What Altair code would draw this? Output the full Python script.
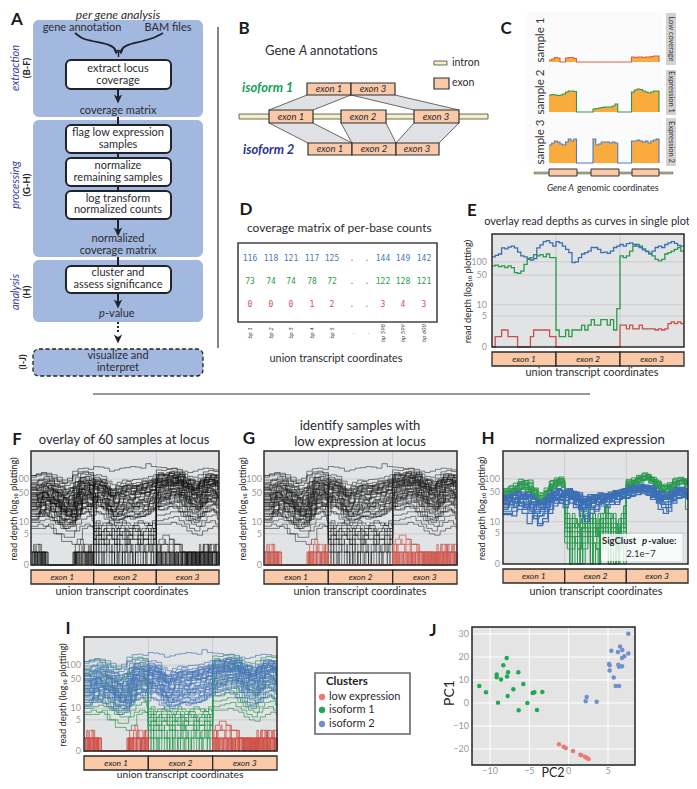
import altair as alt
import pandas as pd
import numpy as np

FONT = "Lato"
INK = "#2b2b33"
XC = alt.Scale(domain=[8, 689], range=[0, 681], nice=False)
YC = alt.Scale(domain=[8, 781], range=[0, 773], nice=False)
layers = []


def cx(f):
    return alt.X(f, type="quantitative", scale=XC, axis=None)


def cy(f):
    return alt.Y(f, type="quantitative", scale=YC, axis=None)


def text(strings, xs, ys, size=10, color=INK, angle=0, align="center", style="normal", weight="normal", font=FONT):
    df = pd.DataFrame({"t": strings, "x": xs, "y": ys})
    props = dict(fontSize=size, color=color, align=align, baseline="middle", fontStyle=style, fontWeight=weight, font=font)
    if angle:
        props["angle"] = angle
    layers.append(alt.Chart(df).mark_text(**props).encode(x=cx("x"), y=cy("y"), text="t:N"))


def box(x, x2, y, y2, **props):
    df = pd.DataFrame({"a": x, "b": x2, "c": y, "d": y2})
    layers.append(alt.Chart(df).mark_rect(**props).encode(x=cx("a"), x2=alt.X2("b"), y=cy("c"), y2=alt.Y2("d")))


def segs(x, x2, y, y2, color=INK, width=1.0, dash=None):
    df = pd.DataFrame({"a": x, "b": x2, "c": y, "d": y2})
    props = dict(color=color, strokeWidth=width)
    if dash:
        props["strokeDash"] = dash
    layers.append(alt.Chart(df).mark_rule(**props).encode(x=cx("a"), x2=alt.X2("b"), y=cy("c"), y2=alt.Y2("d")))


def heads(x, y, size=70):
    df = pd.DataFrame({"x": x, "y": y})
    layers.append(alt.Chart(df).mark_point(shape="M-1,-1.1L0,1.1L1,-1.1L0,-0.5Z", filled=True, size=size, color="#20232e", opacity=1).encode(x=cx("x"), y=cy("y")))


# ---------- Panel letters ----------
LETTERS = ["A", "B", "C", "D", "E", "F", "G", "H", "I", "J"]
LETTER_X = [17, 244, 506, 246, 472, 17, 249, 488, 68, 433]
LETTER_Y = [20, 29, 29, 210, 211, 440, 439, 439, 629, 631]
text(LETTERS, LETTER_X, LETTER_Y, size=17, color="#1a1a1a", weight="bold")

# ---------- Panel A ----------
A_PANEL_Y = [20, 120, 260]
A_PANEL_Y2 = [117, 257, 322]
box([33] * 3, [203] * 3, A_PANEL_Y, A_PANEL_Y2, color="#a3b8df", cornerRadius=6)
box([33], [203], [349], [376], color="#a3b8df", cornerRadius=6, stroke="#222", strokeWidth=1.3, strokeDash=[4, 2.5])
segs([118] * 6, [118] * 6, [89, 117, 153, 186, 219, 293], [102, 125, 158, 191, 232, 304], color="#20232e", width=2)
segs([118], [118], [257], [266], color="#20232e", width=2)
segs([118], [118], [322], [333], color="#20232e", width=2, dash=[2, 2])
curve_l = pd.DataFrame({"x": [75, 82, 92, 106, 114, 117], "y": [33, 38, 41, 44, 48, 53]})
curve_r = pd.DataFrame({"x": [163, 153, 143, 131, 123, 120], "y": [33, 38, 41, 44, 48, 53]})
for c in (curve_l, curve_r):
    layers.append(alt.Chart(c).mark_line(interpolate="monotone", color="#20232e", strokeWidth=1.8).encode(x=alt.X("x:Q", scale=XC, axis=None), y=alt.Y("y:Q", scale=YC, axis=None), order="y:Q"))
segs([118.5], [118.5], [50], [57], color="#20232e", width=1.5)
heads([118, 118, 118, 118], [99, 232, 304, 339])
heads([116, 121], [52, 52], size=22)
A_BOX_Y = [60, 125, 158, 191, 266]
A_BOX_Y2 = [89, 153, 186, 219, 293]
box([66] * 5, [171] * 5, A_BOX_Y, A_BOX_Y2, color="white", stroke="#20232e", strokeWidth=2, cornerRadius=5)
A_TEXT = ["gene annotation", "BAM files", "extract locus", "coverage", "coverage matrix", "flag low expression",
          "samples", "normalize", "remaining samples", "log transform", "normalized counts", "normalized",
          "coverage matrix", "cluster and", "assess significance", "visualize and", "interpret"]
A_TEXT_X = [82, 168] + [118] * 15
A_TEXT_Y = [28, 28, 69, 81, 111, 133, 145, 166, 178, 199, 210, 239, 251, 273, 285, 356, 368]
text(A_TEXT, A_TEXT_X, A_TEXT_Y, size=11)
text(["p"], [102], [314], size=11, style="italic")
text(["-value"], [105], [314], size=11, align="left")
text(["per gene analysis"], [118], [15], size=12, style="italic")
STAGE = ["extraction", "processing", "analysis"]
text(STAGE, [16, 16, 16], [68, 185, 292], size=11, color="#3b3b9c", style="italic", angle=270)
text(["(B-F)", "(G-H)", "(H)", "(I-J)"], [27, 27, 27, 23], [68, 185, 292, 362], size=9.5, weight="bold", angle=270, color="#222")
segs([218], [218], [27], [348], color="#333", width=1.2)
segs([93], [590], [394], [394], color="#333", width=1.2)

# ---------- Panel B ----------
text(["Gene"], [265], [51], size=13, align="left")
text(["A"], [299], [51], size=13, align="left", style="italic")
text(["annotations"], [310], [51], size=13, align="left")
box([239], [488], [114], [119], color="#f7efc4", stroke="#444", strokeWidth=0.8)
box([434], [447], [61], [65], color="#f7efc4", stroke="#444", strokeWidth=0.8)
text(["intron", "exon"], [452, 452], [63, 83], size=10.5, align="left")
TRAP_Y = [[95, 110], [95, 110], [123, 143], [123, 143], [123, 143]]
TRAP_XA = [[307, 269], [351, 414], [269, 308], [341, 352], [414, 396]]
TRAP_XB = [[351, 313], [395, 459], [313, 352], [386, 396], [459, 439]]
for ty, ta, tb in zip(TRAP_Y, TRAP_XA, TRAP_XB):
    d = pd.DataFrame({"y": ty, "a": ta, "b": tb})
    layers.append(alt.Chart(d).mark_area(orient="horizontal", color="#dfe1e4").encode(y=cy("y"), x=cx("a"), x2=alt.X2("b")))
    segs(ta[:1], ta[1:], ty[:1], ty[1:], color="#444", width=0.8)
    segs(tb[:1], tb[1:], ty[:1], ty[1:], color="#444", width=0.8)
EXON_B_X = [307, 351, 269, 341, 414, 308, 352, 396, 434]
EXON_B_X2 = [351, 395, 313, 386, 459, 352, 396, 439, 449]
EXON_B_Y = [83, 83, 110, 110, 110, 143, 143, 143, 78]
EXON_B_Y2 = [95, 95, 123, 123, 123, 155, 155, 155, 89]
box(EXON_B_X, EXON_B_X2, EXON_B_Y, EXON_B_Y2, color="#f9c9a8", stroke="#333", strokeWidth=1.2)
EXON_B_T = ["exon 1", "exon 3", "exon 1", "exon 2", "exon 3", "exon 1", "exon 2", "exon 3"]
text(EXON_B_T, [329, 373, 291, 363, 436, 330, 374, 417], [89, 89, 117, 117, 117, 149, 149, 149], size=9.5, style="italic")
text(["isoform 1"], [242], [88], size=13, color="#16a05a", style="italic", weight="bold", align="left")
text(["isoform 2"], [243], [150], size=13, color="#2b3590", style="italic", weight="bold", align="left")

# ---------- Panel C ----------
C_POS = list(range(0, 1001, 25))
C_S1 = [2, 3, 4.5, 4, 0, 0, 4, 4.5, 4.5, 3.5, 0] + [0] * 19 + [5, 4.5, 5, 5, 4.5, 5, 5, 5.5, 6, 6, 0]
C_S2 = [17, 17.5, 17, 16.5, 17, 18, 20, 21, 21, 20.5, 0, 0, 0, 0, 0, 0, 3, 3.5, 4, 4.5, 5, 5, 5, 6, 8, 0, 0, 0, 0, 0,
        20, 22, 23, 22.5, 21, 20, 19, 20, 21, 21, 0]
C_S3 = [18, 20, 22, 21, 19, 18, 21, 24, 22, 24, 0, 0, 0, 0, 0, 0, 24, 18, 19, 21, 21, 21, 20, 21, 20, 0, 0, 0, 0, 0,
        22, 22, 23, 22, 21, 22, 20, 22, 23, 24, 0]
C_GRID = np.arange(528, 663, 2.0).tolist()
segs(C_GRID, C_GRID, [12] * len(C_GRID), [165] * len(C_GRID), color="#f1f1f1", width=0.6)
C_X = alt.Scale(domain=[0, 1000], range=[541, 651], nice=False)
for vals, base, col in ((C_S1, 62, "#d6604d"), (C_S2, 112, "#2a9a4a"), (C_S3, 163, "#4a7fc0")):
    d = pd.DataFrame({"p": C_POS, "v": vals})
    ys = alt.Scale(domain=[0, 50], range=[base - 8, base - 58], nice=False)
    enc = dict(x=alt.X("p:Q", scale=C_X, axis=None), y=alt.Y("v:Q", scale=ys, axis=None))
    layers.append(alt.Chart(d).mark_area(interpolate="step-after", color="#f9ac3d").encode(**enc))
    layers.append(alt.Chart(d).mark_line(interpolate="step-after", color=col, strokeWidth=1.1).encode(**enc))
box([666] * 3, [676] * 3, [13, 70, 118], [65, 115, 166], color="#d2d2d2")
text(["Low coverage", "Expression 1", "Expression 2"], [671] * 3, [39, 92, 142], size=7.5, angle=90, color="#333")
text(["sample 1", "sample 2", "sample 3"], [541] * 3, [40, 92, 142], size=11.5, angle=270, color="#333")
box([534], [673], [172], [174], color="#b5ae90", stroke="#555", strokeWidth=0.5)
box([549, 591, 632], [577, 619, 659], [169] * 3, [176] * 3, color="#f9c9a8", stroke="#333", strokeWidth=1)
text(["Gene A"], [547], [188], size=9, style="italic", align="left")
text(["genomic coordinates"], [577], [188], size=9, align="left")

# ---------- Panel D ----------
text(["coverage matrix of  per-base counts"], [247], [228], size=12, align="left")
box([238], [437], [243], [322], filled=False, stroke="#444", strokeWidth=1.6)
D_COL = [250, 271, 291, 312, 332, 352, 367, 383, 403, 424]
D_BLUE = ["116", "118", "121", "117", "125", ".", ".", "144", "149", "142"]
D_GREEN = ["73", "74", "74", "78", "72", ".", ".", "122", "128", "121"]
D_RED = ["0", "0", "0", "1", "2", ".", ".", "3", "4", "3"]
D_BP = ["bp 1", "bp 2", "bp 3", "bp 4", "bp 5", ".", ".", "bp 598", "bp 599", "bp 600"]
MONO = "DejaVu Sans Mono"
text(D_BLUE, D_COL, [259] * 10, size=8, color="#4a7ab5", font=MONO)
text(D_GREEN, D_COL, [282] * 10, size=8, color="#2e9a50", font=MONO)
text(D_RED, D_COL, [305] * 10, size=8, color="#d0505a", font=MONO)
text(D_BP, D_COL, [333] * 10, size=6, style="italic", angle=270, color="#444")
text(["union transcript coordinates"], [336], [359], size=10.8)

# ---------- Read-depth data ----------
LEVEL = [0, 1.2, 2.4, 3.5, 4.6, 5.8, 7, 8.3, 9.6, 11]
PHASE = [0, 0.5, 0.2, 0.7, 0.35, 0.85]
BLUE = [
    [120, 130, 140, 135, 125, 110, 95, 105, 150, 170, 175, 165, 190, 185, 175, 150, 160, 175, 180, 190, 185, 175, 220, 190, 185, 180, 170, 175, 165, 150, 140, 150, 165, 175, 170, 160],
    [95, 100, 112, 100, 90, 80, 72, 80, 110, 130, 125, 120, 125, 115, 90, 75, 85, 95, 92, 98, 100, 105, 115, 125, 130, 128, 135, 140, 125, 105, 95, 88, 100, 120, 125, 118],
    [80, 92, 95, 90, 78, 66, 60, 64, 85, 105, 112, 100, 110, 100, 82, 60, 72, 80, 88, 80, 84, 92, 95, 105, 112, 120, 118, 125, 110, 88, 76, 72, 85, 100, 108, 96],
    [62, 75, 80, 72, 66, 58, 46, 50, 70, 88, 92, 85, 92, 80, 60, 48, 60, 72, 74, 68, 76, 80, 84, 92, 95, 100, 108, 112, 92, 80, 62, 60, 72, 88, 94, 85],
    [55, 60, 68, 60, 52, 44, 38, 44, 60, 78, 80, 72, 80, 72, 50, 38, 46, 52, 60, 62, 56, 64, 72, 80, 85, 84, 90, 95, 82, 66, 56, 50, 62, 76, 80, 70],
    [46, 52, 58, 56, 48, 38, 32, 36, 50, 66, 72, 62, 70, 60, 42, 30, 40, 44, 46, 50, 48, 52, 58, 66, 72, 76, 80, 84, 70, 60, 46, 42, 52, 66, 70, 60],
    [40, 46, 50, 46, 38, 32, 26, 30, 44, 58, 60, 52, 60, 50, 36, 24, 30, 36, 38, 36, 40, 46, 50, 56, 64, 66, 72, 75, 62, 50, 40, 36, 46, 58, 62, 52],
    [34, 40, 44, 40, 34, 28, 22, 24, 36, 48, 52, 46, 48, 42, 28, 20, 26, 30, 34, 30, 34, 36, 40, 48, 54, 58, 62, 60, 50, 42, 34, 30, 38, 50, 52, 44],
    [28, 34, 38, 34, 28, 22, 18, 20, 30, 42, 44, 38, 42, 34, 26, 18, 22, 24, 28, 26, 30, 32, 36, 42, 46, 48, 54, 52, 44, 36, 28, 26, 32, 42, 46, 38],
    [24, 28, 32, 28, 24, 18, 14, 16, 26, 34, 36, 32, 34, 28, 20, 14, 18, 20, 22, 24, 22, 26, 28, 34, 40, 42, 44, 46, 38, 30, 24, 20, 28, 36, 38, 32],
    [20, 24, 26, 24, 20, 16, 12, 14, 20, 28, 30, 26, 30, 24, 16, 12, 14, 16, 20, 18, 18, 20, 24, 30, 34, 36, 40, 38, 32, 24, 20, 18, 24, 30, 32, 26],
    [16, 20, 22, 18, 16, 12, 10, 11, 16, 24, 26, 22, 24, 20, 14, 11, 12, 14, 15, 16, 14, 16, 20, 24, 28, 30, 32, 32, 26, 20, 16, 14, 18, 26, 28, 22],
    [14, 16, 18, 16, 13, 10, 8, 9, 14, 20, 22, 18, 18, 16, 12, 9, 10, 12, 14, 12, 13, 14, 16, 20, 24, 26, 28, 26, 22, 18, 14, 12, 16, 22, 22, 18],
    [11, 14, 15, 13, 11, 9, 7, 8, 12, 16, 18, 15, 30, 26, 20, 18, 16, 15, 14, 14, 16, 18, 22, 26, 20, 22, 24, 24, 18, 15, 12, 11, 14, 18, 20, 16],
    [70, 78, 85, 78, 68, 56, 48, 55, 74, 95, 100, 90, 75, 70, 55, 42, 48, 55, 58, 54, 60, 65, 70, 75, 100, 105, 110, 118, 98, 80, 66, 62, 78, 92, 100, 90],
    [50, 56, 62, 58, 50, 42, 34, 38, 54, 72, 76, 68, 55, 48, 34, 26, 30, 36, 34, 38, 40, 44, 48, 56, 78, 84, 88, 92, 76, 62, 48, 46, 58, 72, 78, 68],
    [36, 42, 46, 42, 36, 30, 24, 26, 40, 52, 56, 48, 40, 34, 24, 18, 20, 22, 26, 24, 28, 30, 34, 38, 60, 62, 68, 72, 56, 46, 36, 32, 44, 54, 58, 50],
    [30, 35, 38, 34, 30, 24, 18, 22, 32, 44, 46, 40, 24, 22, 16, 14, 15, 17, 18, 16, 18, 20, 22, 28, 44, 48, 52, 54, 42, 34, 26, 24, 32, 42, 44, 36],
    [110, 118, 125, 115, 102, 88, 80, 86, 118, 135, 142, 130, 95, 88, 70, 55, 62, 68, 74, 70, 72, 80, 86, 95, 125, 130, 140, 150, 130, 110, 96, 90, 105, 128, 132, 120],
    [26, 30, 34, 30, 26, 20, 15, 18, 28, 36, 40, 34, 18, 16, 13, 12, 12, 13, 14, 13, 14, 15, 18, 22, 36, 38, 44, 42, 34, 28, 22, 20, 26, 34, 36, 30],
    [40, 44, 38, 52, 46, 30, 36, 24, 40, 62, 70, 58, 88, 76, 66, 44, 58, 64, 70, 62, 74, 70, 82, 90, 105, 92, 120, 104, 118, 84, 92, 66, 88, 110, 96, 108],
    [22, 30, 26, 36, 32, 18, 22, 16, 28, 38, 48, 40, 72, 66, 48, 36, 44, 52, 46, 56, 58, 50, 66, 72, 88, 96, 84, 108, 90, 76, 58, 70, 74, 98, 82, 90],
    [58, 48, 64, 72, 50, 52, 34, 42, 48, 84, 66, 76, 100, 84, 62, 50, 68, 60, 78, 66, 62, 88, 76, 98, 140, 118, 132, 110, 128, 92, 100, 74, 96, 108, 124, 104],
    [18, 26, 20, 30, 24, 16, 20, 13, 22, 34, 28, 36, 64, 52, 44, 28, 36, 42, 38, 46, 50, 42, 56, 66, 72, 82, 70, 92, 66, 70, 46, 54, 66, 76, 84, 68],
    [30, 24, 40, 34, 28, 34, 20, 26, 24, 52, 44, 46, 66, 60, 36, 32, 28, 46, 42, 34, 52, 48, 60, 58, 92, 76, 102, 84, 94, 64, 76, 56, 72, 90, 74, 86],
    [76, 66, 88, 94, 72, 70, 52, 64, 66, 108, 92, 96, 82, 96, 58, 56, 52, 70, 64, 72, 66, 78, 92, 84, 128, 110, 146, 122, 140, 96, 84, 82, 92, 130, 110, 126],
    [48, 38, 54, 44, 52, 34, 38, 26, 44, 58, 74, 54, 58, 54, 46, 34, 42, 40, 54, 44, 46, 60, 52, 70, 74, 90, 80, 104, 72, 82, 52, 60, 68, 86, 98, 76],
    [14, 20, 17, 24, 18, 12, 15, 11, 18, 28, 24, 30, 50, 42, 30, 24, 26, 34, 30, 38, 34, 40, 46, 50, 60, 56, 72, 64, 58, 50, 38, 44, 50, 62, 56, 64],
    [34, 30, 48, 38, 42, 26, 30, 28, 32, 46, 60, 50, 34, 30, 26, 20, 24, 26, 22, 28, 30, 26, 32, 36, 66, 78, 60, 82, 62, 54, 44, 38, 54, 66, 78, 58],
    [24, 20, 32, 26, 22, 24, 16, 20, 20, 42, 34, 38, 44, 36, 24, 22, 20, 30, 28, 24, 34, 30, 38, 42, 54, 46, 60, 48, 56, 40, 46, 34, 44, 56, 48, 54],
    [66, 56, 72, 82, 60, 58, 44, 52, 56, 90, 80, 82, 68, 62, 46, 40, 44, 48, 52, 46, 54, 56, 64, 68, 84, 96, 90, 108, 78, 70, 74, 56, 80, 84, 100, 88],
    [12, 17, 14, 20, 15, 10, 12, 9, 14, 22, 20, 24, 26, 22, 18, 15, 16, 20, 18, 22, 24, 20, 28, 30, 32, 38, 30, 44, 34, 26, 24, 22, 30, 36, 30, 38],
    [44, 36, 50, 56, 40, 40, 30, 34, 38, 60, 56, 62, 76, 70, 52, 42, 50, 56, 62, 52, 68, 62, 70, 80, 78, 68, 94, 80, 86, 60, 68, 50, 64, 78, 70, 82],
    [20, 16, 28, 22, 18, 20, 14, 16, 16, 32, 26, 30, 38, 30, 20, 16, 18, 22, 24, 20, 26, 24, 32, 36, 40, 34, 50, 40, 46, 32, 36, 28, 36, 44, 38, 46],
]
GREEN_E1 = [
    [120, 128, 135, 125, 110, 95, 85, 92, 125, 145, 150, 140], [85, 95, 100, 90, 78, 68, 58, 62, 88, 110, 115, 105],
    [58, 66, 70, 64, 55, 44, 38, 42, 62, 80, 84, 74], [44, 50, 54, 48, 42, 34, 28, 30, 46, 60, 64, 56],
    [34, 38, 42, 38, 32, 26, 20, 22, 34, 46, 50, 42], [26, 30, 32, 28, 24, 18, 15, 16, 26, 36, 38, 32],
    [20, 22, 26, 22, 18, 14, 11, 12, 20, 28, 30, 24], [16, 18, 20, 18, 14, 11, 9, 10, 15, 22, 24, 20],
    [12, 14, 16, 14, 11, 9, 7, 8, 12, 16, 18, 15], [10, 11, 12, 11, 9, 7, 6, 6, 9, 12, 14, 11],
    [8, 9, 8, 9, 5, 5, 4, 4, 6, 8, 9, 8], [7, 7, 8, 7, 5, 3, 3, 2.4, 3.5, 7, 8, 7],
    [65, 72, 78, 70, 60, 50, 44, 48, 68, 88, 92, 82], [30, 34, 38, 34, 28, 22, 18, 20, 30, 40, 44, 38],
]
GREEN_E3 = [
    [160, 155, 165, 170, 150, 130, 115, 110, 125, 145, 155, 148], [120, 125, 135, 130, 115, 95, 80, 78, 92, 110, 118, 108],
    [88, 92, 98, 102, 88, 70, 58, 54, 68, 84, 90, 80], [66, 72, 76, 78, 66, 54, 44, 40, 52, 66, 70, 60],
    [50, 54, 58, 60, 50, 40, 32, 30, 40, 50, 54, 46], [38, 42, 46, 46, 38, 30, 24, 22, 30, 40, 42, 36],
    [30, 32, 36, 36, 30, 24, 18, 17, 24, 30, 32, 26], [24, 26, 28, 30, 24, 18, 14, 13, 18, 24, 26, 22],
    [20, 20, 24, 22, 18, 14, 11, 10, 14, 18, 20, 17], [15, 16, 18, 18, 14, 11, 9, 8, 11, 14, 15, 12],
    [11, 12, 13, 14, 11, 9, 7, 6, 8, 10, 11, 9], [9, 9, 10, 9, 8, 6, 5, 4.6, 6, 7, 8, 7],
    [100, 105, 112, 118, 100, 82, 68, 64, 78, 96, 100, 92], [44, 48, 52, 54, 44, 36, 28, 26, 36, 44, 48, 40],
]
GREEN_E2 = [
    "889997788888999977888899988877788899998888777999",
    "778866777788887776677788877666777788888777877887",
    "667766556677776655666777655666677775566667777666",
    "556655445566665544556666544555666655445555665566",
    "445544334455554433445555433444555544334444554455",
    "334433223344443322334444322333444433223333443344",
    "332233332222333322223333222233333322223333222233",
    "223322112233221122332211223322112233221122332233",
    "221122222211112222112222211112222221111222211222",
    "112211001122110011221100112211001122110011221122",
    "110011110000111100110011110011001111000011110011",
    "001100011100001100100011000111001100001110001100",
    "556644556655446655664455665544665566445566556655",
    "334444333344443333444433334444333344443333444433",
]
RED_E1 = [
    "011010110101100000000000000000001101011110101101",
    "110101101011000000000000000000000010111011011011",
    "111111211110000000000000000000000111122121111211",
    "112122221111100000000000000000000122223322221122",
    "000111101100000000000000000000000011110111110111",
    "100110100110000000000000000000000101100111011101",
]
RED_E3 = [
    "110101110101010110101101010110100101011011011011",
    "101101101111010101101101011011001011010101101101",
    "122122222122212222111110111101111011211212111211",
    "223334444433322222211111111011101211222212221222",
    "111222322233332222221111011111010111101110111011",
    "011011011101110101101010110101011010110101011101",
]
# Panel H (normalised)
H_LEVEL = [0, 1.5, 2.5, 4, 5.5, 7, 9, 12, 16, 24]
H_BLUE = [
    [30, 38, 42, 40, 34, 30, 24, 24, 32, 44, 50, 46, 55, 50, 42, 34, 36, 40, 38, 42, 44, 48, 52, 55, 60, 62, 66, 68, 62, 52, 44, 40, 46, 56, 58, 50],
    [36, 42, 48, 44, 38, 30, 26, 28, 36, 50, 56, 50, 50, 46, 36, 30, 34, 36, 40, 38, 42, 46, 48, 50, 55, 60, 64, 62, 56, 48, 40, 38, 44, 52, 54, 48],
    [24, 30, 34, 30, 26, 22, 18, 20, 28, 38, 42, 38, 46, 40, 30, 22, 26, 30, 34, 32, 36, 40, 44, 46, 50, 54, 58, 56, 50, 42, 34, 30, 38, 46, 50, 44],
    [18, 22, 28, 24, 20, 16, 14, 16, 24, 32, 38, 32, 40, 32, 22, 14, 20, 24, 28, 26, 30, 34, 38, 42, 46, 50, 52, 54, 46, 36, 28, 26, 34, 42, 46, 40],
    [42, 48, 52, 50, 44, 36, 30, 32, 42, 56, 60, 54, 58, 52, 44, 36, 38, 42, 44, 42, 46, 50, 56, 60, 66, 70, 74, 72, 64, 56, 48, 44, 52, 62, 64, 56],
    [15, 18, 24, 20, 16, 12, 9, 10, 20, 28, 32, 26, 36, 26, 14, 10, 16, 20, 24, 22, 26, 30, 36, 38, 42, 44, 48, 50, 38, 28, 22, 18, 28, 36, 40, 34],
    [34, 40, 44, 42, 36, 28, 24, 26, 34, 46, 52, 46, 52, 44, 38, 28, 32, 36, 38, 36, 40, 44, 50, 52, 58, 60, 62, 64, 58, 46, 38, 36, 42, 50, 52, 46],
    [28, 34, 38, 36, 30, 26, 20, 22, 30, 42, 46, 42, 48, 42, 32, 24, 28, 32, 36, 34, 38, 42, 46, 48, 52, 56, 60, 60, 52, 44, 36, 34, 40, 48, 52, 44],
    [22, 26, 30, 28, 24, 20, 16, 18, 26, 34, 38, 34, 44, 36, 26, 18, 24, 28, 30, 30, 34, 36, 40, 44, 48, 52, 54, 54, 48, 38, 20, 16, 30, 44, 48, 42],
    [38, 44, 46, 46, 40, 34, 28, 30, 38, 52, 54, 50, 54, 48, 40, 32, 34, 38, 42, 40, 44, 46, 52, 54, 62, 64, 70, 68, 60, 52, 42, 40, 48, 58, 60, 52],
    [26, 36, 30, 40, 38, 24, 28, 20, 26, 36, 46, 40, 50, 38, 34, 26, 40, 44, 34, 46, 40, 52, 46, 50, 56, 66, 58, 70, 56, 46, 50, 36, 50, 52, 62, 46],
    [32, 28, 40, 34, 42, 34, 22, 30, 30, 46, 40, 52, 46, 50, 30, 34, 28, 42, 46, 36, 46, 42, 58, 52, 64, 54, 70, 60, 66, 50, 40, 42, 40, 60, 50, 56],
    [20, 26, 24, 34, 22, 26, 12, 14, 18, 30, 34, 28, 42, 28, 36, 20, 30, 22, 36, 28, 38, 36, 42, 40, 44, 58, 50, 56, 42, 40, 30, 34, 36, 42, 54, 38],
    [40, 36, 50, 42, 48, 38, 32, 28, 44, 48, 58, 44, 60, 46, 48, 40, 44, 36, 48, 46, 50, 54, 50, 58, 70, 60, 76, 66, 70, 50, 52, 42, 56, 64, 56, 60],
    [28, 24, 36, 24, 28, 18, 16, 20, 22, 40, 36, 44, 38, 44, 24, 28, 22, 34, 26, 32, 30, 38, 34, 46, 54, 48, 62, 52, 44, 48, 32, 38, 34, 50, 44, 50],
    [16, 14, 20, 16, 9, 14, 8, 12, 16, 24, 28, 22, 34, 22, 20, 12, 24, 18, 30, 26, 32, 26, 40, 36, 40, 50, 46, 44, 34, 36, 26, 22, 32, 38, 44, 36],
]
H_GREEN_E1 = [
    [58, 66, 80, 98, 90, 66, 44, 42, 62, 88, 105, 95], [50, 58, 72, 85, 78, 58, 40, 38, 56, 80, 98, 86],
    [46, 52, 62, 72, 64, 50, 36, 34, 50, 72, 88, 78], [42, 48, 56, 64, 58, 44, 32, 30, 46, 66, 78, 70],
    [38, 44, 50, 58, 52, 40, 30, 28, 42, 60, 70, 64], [54, 62, 76, 92, 84, 62, 42, 40, 60, 84, 102, 90],
    [48, 56, 66, 78, 70, 54, 38, 36, 52, 76, 92, 82], [40, 46, 54, 60, 56, 42, 30, 28, 44, 62, 74, 66],
    [52, 70, 68, 88, 72, 62, 36, 46, 54, 92, 96, 84], [44, 60, 60, 80, 60, 54, 34, 32, 58, 70, 84, 92],
    [36, 50, 58, 66, 50, 46, 26, 36, 40, 68, 80, 70], [60, 54, 84, 74, 94, 58, 48, 36, 66, 78, 110, 88],
]
H_GREEN_E3 = [
    [88, 105, 120, 130, 112, 90, 74, 70, 82, 98, 104, 92], [80, 95, 110, 120, 105, 82, 66, 62, 76, 90, 96, 84],
    [76, 88, 100, 112, 96, 74, 60, 56, 70, 84, 90, 78], [70, 82, 92, 102, 88, 68, 54, 50, 64, 78, 84, 72],
    [64, 76, 84, 94, 80, 62, 50, 46, 58, 70, 76, 66], [84, 100, 116, 126, 108, 86, 70, 66, 80, 94, 100, 88],
    [78, 92, 104, 116, 100, 78, 62, 58, 72, 86, 92, 80], [68, 80, 90, 98, 84, 64, 52, 48, 60, 74, 80, 20],
    [96, 92, 112, 136, 100, 96, 66, 76, 74, 104, 108, 84], [72, 100, 96, 124, 92, 90, 56, 68, 66, 92, 98, 76],
    [90, 76, 106, 100, 110, 70, 68, 52, 76, 80, 94, 74], [74, 86, 94, 108, 96, 80, 58, 62, 64, 88, 88, 86],
]
H_GREEN_E2 = [
    "887766777665556677887766655677889988776665567788",
    "776655665544455566776655544566778877665554456677",
    "665544554433344455665544433455667766554443345566",
    "554433443322233344554433322344556655443332234455",
    "998877887766677788998877766788899988877766778899",
    "443322332211122233443322211233445544332221123344",
    "776600665544005566770055544066778800665500456677",
    "332211220011001122332200111022334433220011012233",
    "665533776644886655447766338855669977554466337788",
    "554400332266115544220077334411556633770044226655",
    "887744665533995577446688335577449966228855337799",
    "221100113300220011440022110033221100330011442200",
]

E_BLUE = [130, 140, 150, 205, 195, 215, 226, 205, 165, 136, 130, 120, 110, 118, 205, 240, 285, 300, 267, 226,
          285, 267, 226, 190, 161, 96, 100, 125, 150, 161, 175, 210, 210, 190, 161, 165, 155, 175, 210, 226,
          245, 226, 255, 267, 245, 226, 210, 185, 170, 155, 175, 210, 226, 210, 245, 267, 285, 260, 235, 226]
E_GREEN = [81, 84, 78, 81, 74, 81, 74, 57, 55, 62, 88, 114, 125, 145, 136, 145, 130, 150, 125, 125,
           1.8, 0.9, 0.9, 1.8, 0.9, 1.8, 1.8, 1.8, 2.7, 1.8, 2.7, 4, 2.7, 2.7, 4, 4, 2.7, 4, 1.8, 8,
           136, 125, 136, 175, 226, 245, 226, 195, 175, 150, 136, 114, 105, 114, 150, 161, 175, 190, 210, 175]
E_RED = [0, 0.9, 0.9, 1.8, 1.8, 0.9, 0.9, 0.9, 0, 0, 0, 0, 0.9, 1.8, 1.8, 1.8, 1.8, 1.8, 0.9, 0.9,
         0, 0, 0, 0, 0, 0, 0, 0, 0, 0, 0, 0, 0, 0, 0, 0, 0, 0, 0, 0,
         2.7, 2.7, 2, 2.7, 2, 2, 2.7, 2, 2, 2, 2, 1.8, 2, 1.8, 2, 3, 3.4, 3, 3.4, 3]


def whole(curves):
    rows = []
    for s, c in enumerate(curves):
        n = len(c)
        ph = PHASE[s % len(PHASE)]
        for i, v in enumerate(c):
            rows.append((s, 0 if i == 0 else (i + ph) * 600 / n, v))
        rows.append((s, 600, c[-1]))
    return pd.DataFrame(rows, columns=["s", "bp", "v"])


def spliced(e1, e2, e3, lev=LEVEL):
    rows = []
    for s, (a, m, b) in enumerate(zip(e1, e2, e3)):
        ph = PHASE[s % len(PHASE)]
        for i, v in enumerate(a):
            rows.append((s, 0 if i == 0 else (i + ph) * 200 / len(a), v))
        for i, ch in enumerate(m):
            rows.append((s, 200 + i * 200 / len(m), lev[int(ch)]))
        for i, v in enumerate(b):
            rows.append((s, 400 if i == 0 else 400 + (i + ph) * 200 / len(b), v))
        rows.append((s, 600, b[-1]))
    return pd.DataFrame(rows, columns=["s", "bp", "v"])


def low(e1, e3):
    rows = []
    for s, (a, b) in enumerate(zip(e1, e3)):
        for i, ch in enumerate(a):
            rows.append((s, i * 200 / len(a), LEVEL[int(ch)]))
        rows.append((s, 200, 0))
        for i, ch in enumerate(b):
            rows.append((s, 400 + i * 200 / len(b), LEVEL[int(ch)]))
        rows.append((s, 600, 0))
    return pd.DataFrame(rows, columns=["s", "bp", "v"])


DF_BLUE = whole(BLUE)
DF_GREEN = spliced(GREEN_E1, GREEN_E2, GREEN_E3)
DF_RED = low(RED_E1, RED_E3)
DF_H_BLUE = whole(H_BLUE)
DF_H_GREEN = spliced(H_GREEN_E1, H_GREEN_E2, H_GREEN_E3, H_LEVEL)
DF_E = [whole([E_BLUE]), whole([E_GREEN]), whole([E_RED])]

TICKS = [0, 5, 10, 50, 100]
TICK_LAB = ["0", "5", "10", "50", "100"]
GRID_V = [5, 10, 50, 100]
TOP = 420


def depth_panel(x0, x1, ytop, ybot, tick_x, label_x, title_x, title_y, series, title_size=10.8):
    xs = alt.Scale(domain=[0, 600], range=[x0 - 8, x1 - 8], nice=False)
    ys = alt.Scale(type="symlog", constant=1.3, domain=[0, TOP], range=[ybot - 8, ytop - 8], nice=False)
    ex = alt.X("bp:Q", scale=xs, axis=None)
    ey = alt.Y("v:Q", scale=ys, axis=None)
    bg = pd.DataFrame({"bp": [0], "b2": [600], "v": [0], "v2": [TOP]})
    layers.append(alt.Chart(bg).mark_rect(color="#e1e3e5").encode(x=ex, x2=alt.X2("b2"), y=ey, y2=alt.Y2("v2")))
    gr = pd.DataFrame({"v": GRID_V, "bp": [0] * 4, "b2": [600] * 4})
    layers.append(alt.Chart(gr).mark_rule(color="#c6c8ca", strokeWidth=0.9).encode(x=ex, x2=alt.X2("b2"), y=ey))
    vr = pd.DataFrame({"bp": [200, 400], "v": [0, 0], "v2": [TOP, TOP]})
    layers.append(alt.Chart(vr).mark_rule(color="#c6c8ca", strokeWidth=0.9).encode(x=ex, y=ey, y2=alt.Y2("v2")))
    for df, col, w, op in series:
        layers.append(alt.Chart(df).mark_line(interpolate="step-after", color=col, strokeWidth=w, opacity=op).encode(x=ex, y=ey, detail="s:N"))
    fr = pd.DataFrame({"bp": [0], "b2": [600], "v": [0], "v2": [TOP]})
    layers.append(alt.Chart(fr).mark_rect(filled=False, stroke="#2b2b2b", strokeWidth=1.5).encode(x=ex, x2=alt.X2("b2"), y=ey, y2=alt.Y2("v2")))
    tk = pd.DataFrame({"v": TICKS, "t": TICK_LAB, "x": [tick_x] * 5})
    layers.append(alt.Chart(tk).mark_text(fontSize=9, color="#9a9a9a", align="right", baseline="middle", font=FONT).encode(x=cx("x"), y=ey, text="t:N"))
    text(["read depth (log\u2081\u2080 plotting)"], [label_x], [(ytop + ybot) / 2 + 1], size=9.3, angle=270, color="#222")
    ex_df = pd.DataFrame({"bp": [0, 200, 400], "b2": [200, 400, 600], "y": [ybot + 5] * 3, "y2": [ybot + 19] * 3})
    layers.append(alt.Chart(ex_df).mark_rect(color="#f9c9a8", stroke="#2b2b2b", strokeWidth=1.3).encode(x=ex, x2=alt.X2("b2"), y=cy("y"), y2=alt.Y2("y2")))
    lb = pd.DataFrame({"bp": [100, 300, 500], "t": ["exon 1", "exon 2", "exon 3"], "y": [ybot + 12] * 3})
    layers.append(alt.Chart(lb).mark_text(fontSize=8.5, fontStyle="italic", color="#222", baseline="middle", font=FONT).encode(x=ex, y=cy("y"), text="t:N"))
    text(["union transcript coordinates"], [title_x], [title_y], size=title_size)


BK, W = "#111111", 0.6
depth_panel(492, 684, 234, 347, 487, 468, 592, 373, [
    (DF_E[2], "#c9524a", 1.3, 1), (DF_E[1], "#2a9a4e", 1.3, 1), (DF_E[0], "#3d6fb5", 1.3, 1)])
text(["overlay read depths as curves in single plot"], [587], [222], size=11)
depth_panel(31, 219, 451, 565, 29, 14, 122, 592, [
    (DF_BLUE, BK, W, 0.9), (DF_GREEN, BK, W, 0.9), (DF_RED, BK, W, 0.9)])
text(["overlay of 60 samples at locus"], [124], [440], size=13)
depth_panel(264, 457, 451, 565, 262, 243, 360, 592, [
    (DF_BLUE, "#222222", W, 0.9), (DF_GREEN, "#222222", W, 0.9), (DF_RED, "#cf5a50", 0.8, 0.95)])
text(["identify samples with", "low expression at locus"], [360, 360], [426, 442], size=13)
depth_panel(503, 688, 451, 564, 500, 482, 596, 592, [
    (DF_H_GREEN, "#2a9a4e", 1.0, 1), (DF_H_BLUE, "#3d6fb5", 1.2, 1)])
text(["normalized expression"], [600], [440], size=13.3)
box([601], [682], [534], [561], color="white", opacity=0.8)
text(["SigClust"], [602], [541], size=9.5, weight="bold", align="left")
text(["p"], [642], [541], size=9.5, weight="bold", style="italic", align="left")
text(["-value:"], [648], [541], size=9.5, weight="bold", align="left")
text(["2.1e\u22127"], [641], [554], size=9.5)
depth_panel(84, 277, 637, 751, 81, 63, 180, 775, [
    (DF_GREEN, "#2a9a4e", 0.7, 1), (DF_BLUE, "#4a78ba", 0.7, 1), (DF_RED, "#cf4f45", 0.8, 1)], title_size=10.3)

# ---------- Legend ----------
box([315], [410], [673], [734], color="white", stroke="#666", strokeWidth=1.6)
text(["Clusters"], [326], [682], size=11.5, weight="bold", align="left", color="#222")
LEG = ["low expression", "isoform 1", "isoform 2"]
COLS = ["#ea7b6f", "#1daa52", "#6e90cf"]
text(LEG, [329] * 3, [697, 710, 724], size=11, align="left")
for col, y in zip(COLS, [697, 710, 724]):
    layers.append(alt.Chart(pd.DataFrame({"x": [322], "y": [y]})).mark_circle(size=40, color=col, opacity=1).encode(x=cx("x"), y=cy("y")))

# ---------- Panel J ----------
PC2_GREEN = [-11.36, -10.51, -9.15, -9.15, -8.6, -8.31, -7.88, -7.84, -7.71, -6.4, -5.76, -7.03, -7.75, -8.98, -5.25, -6.36, -4.03, -4.58, -4.36, -3.35]
PC1_GREEN = [7.4, 4.65, 12.35, 11.2, 10.17, 16.4, 19.6, 11.5, 13.4, 13.4, 8.3, 5.96, 3.05, 0.15, 0, -3.2, -3.05, 4.36, 4.65, 4.8]
PC2_BLUE = [7.58, 5.42, 6.27, 6.53, 6.82, 7.58, 7.08, 6.78, 5.13, 5.21, 6.31, 6.4, 6.78, 5.21, 5.72, 5.97, 6.4, 2.29, 2.16, 3.56]
PC1_BLUE = [30.1, 22.7, 22.2, 24.6, 23, 21.5, 20.35, 19.6, 17, 16.4, 16.6, 15.8, 16, 14.1, 11.05, 7.4, 7.4, 2.6, 0.73, 0.58]
PC2_RED = [-1.23, -0.64, -0.38, 0.55, 1.48, 1.61, 2.08, 2.29, 2.54]
PC1_RED = [-18, -19, -19.6, -20.9, -22.5, -22.7, -23.4, -23.8, -24.4]
JX = alt.Scale(domain=[-12.29, 8.43], range=[464, 627], nice=False)
JY = alt.Scale(domain=[-26.98, 33.05], range=[757, 619], nice=False)
jx = alt.X("a:Q", scale=JX, axis=None)
jy = alt.Y("b:Q", scale=JY, axis=None)
jbg = pd.DataFrame({"a": [-12.29], "a2": [8.43], "b": [-26.98], "b2": [33.05]})
layers.append(alt.Chart(jbg).mark_rect(color="#e4e4e4").encode(x=jx, x2=alt.X2("a2"), y=jy, y2=alt.Y2("b2")))
JXT = [-10, -5, 0, 5]
JYT = [-20, -10, 0, 10, 20, 30]
g1 = pd.DataFrame({"a": JXT, "b": [-26.98] * 4, "b2": [33.05] * 4})
layers.append(alt.Chart(g1).mark_rule(color="white", strokeWidth=1).encode(x=jx, y=jy, y2=alt.Y2("b2")))
g2 = pd.DataFrame({"b": JYT, "a": [-12.29] * 6, "a2": [8.43] * 6})
layers.append(alt.Chart(g2).mark_rule(color="white", strokeWidth=1).encode(y=jy, x=jx, x2=alt.X2("a2")))
for px, py, col in ((PC2_GREEN, PC1_GREEN, COLS[1]), (PC2_BLUE, PC1_BLUE, COLS[2]), (PC2_RED, PC1_RED, COLS[0])):
    layers.append(alt.Chart(pd.DataFrame({"a": px, "b": py})).mark_circle(size=20, color=col, opacity=1).encode(x=jx, y=jy))
layers.append(alt.Chart(jbg).mark_rect(filled=False, stroke="#222", strokeWidth=1.5).encode(x=jx, x2=alt.X2("a2"), y=jy, y2=alt.Y2("b2")))
tx = pd.DataFrame({"a": JXT, "t": ["\u221210", "\u22125", "0", "5"], "y": [771] * 4})
layers.append(alt.Chart(tx).mark_text(fontSize=9, color="#999", baseline="middle", font=FONT).encode(x=jx, y=cy("y"), text="t:N"))
ty_df = pd.DataFrame({"b": JYT, "t": ["\u221220", "\u221210", "0", "10", "20", "30"], "x": [469] * 6})
layers.append(alt.Chart(ty_df).mark_text(fontSize=9, color="#999", align="right", baseline="middle", font=FONT).encode(x=cx("x"), y=jy, text="t:N"))
text(["PC2"], [553], [773], size=12.5, color="#222")
text(["PC1"], [450], [693], size=14, angle=270, color="#222")

chart = alt.layer(*layers).resolve_scale(x="independent", y="independent").properties(
    width=681, height=773, padding=0, autosize=alt.AutoSizeParams(type="none"),
    background="white",
).configure_view(stroke=None)

chart.save("out.html", embed_options={"renderer": "svg", "actions": False})
